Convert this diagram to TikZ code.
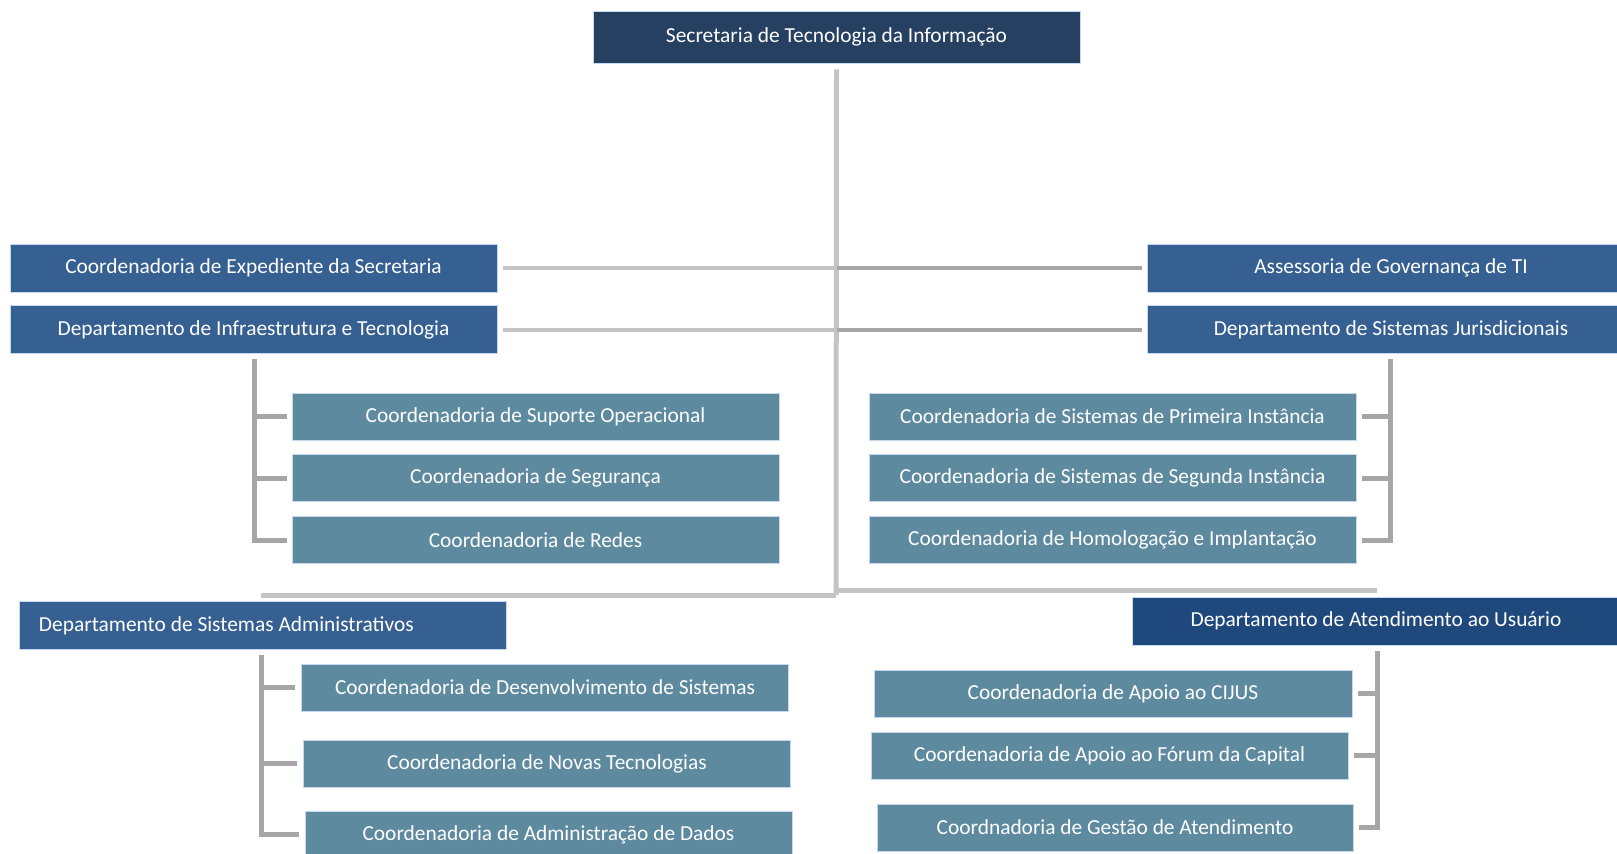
\documentclass[tikz,border=0pt]{standalone}
\usepackage{fontspec}
\setmainfont{Carlito}
\usepackage{tikz}
\usetikzlibrary{positioning, calc}
\definecolor{navy}{HTML}{264062}
\definecolor{deptblue}{HTML}{366092}
\definecolor{userblue}{HTML}{1F497D}
\definecolor{coordteal}{HTML}{5E8AA0}
\definecolor{edgelight}{HTML}{C6D9F1}
\definecolor{lightgray}{HTML}{C4C4C4}
\definecolor{darkgray}{HTML}{A6A6A6}
\tikzstyle{box} = [rectangle, inner sep=0pt, minimum width=243.5pt, minimum height=24pt, text=white, draw=edgelight, line width=0.4pt, font=\fontsize{10.7}{12.5}\selectfont, align=center]
\tikzstyle{chief} = [box, fill=navy, minimum height=26pt]
\tikzstyle{dept} = [box, fill=deptblue]
\tikzstyle{deptl} = [box, fill=deptblue, inner xsep=10pt, text width=223.5pt, align=flush left]
\tikzstyle{user} = [box, fill=userblue]
\tikzstyle{coord} = [box, fill=coordteal, minimum height=23.5pt]
\tikzstyle{trunk} = [line width=2.5pt, draw=lightgray]
\tikzstyle{link} = [line width=2pt, draw=lightgray]
\tikzstyle{linkd} = [line width=2pt, draw=darkgray]
\tikzstyle{branch} = [line width=2.5pt, draw=darkgray]

\begin{document}
\begin{tikzpicture}[x=0.5pt, y=-0.5pt, node distance=7pt]
	\useasboundingbox (0,0) rectangle (1617,853);
	% topo
	\node[chief] (sti) at (836.5,37) {Secretaria de Tecnologia da Informação};
	% segundo nivel
	\node[dept] (ces) at (253.5,268) {Coordenadoria de Expediente da Secretaria};
	\node[dept, below=6.5pt of ces] (dit) {Departamento de Infraestrutura e Tecnologia};
	\node[dept] (agt) at (1391,268) {Assessoria de Governança de TI};
	\node[dept, below=6.5pt of agt] (dsj) {Departamento de Sistemas Jurisdicionais};
	% coordenadorias
	\node[coord] (cso) at (535.5,416.5) {Coordenadoria de Suporte Operacional};
	\node[coord, below=of cso] (cseg) {Coordenadoria de Segurança};
	\node[coord, below=of cseg] (cred) {Coordenadoria de Redes};
	\node[coord] (cspi) at (1112.5,416.5) {Coordenadoria de Sistemas de Primeira Instância};
	\node[coord, below=of cspi] (cssi) {Coordenadoria de Sistemas de Segunda Instância};
	\node[coord, below=of cssi] (chi) {Coordenadoria de Homologação e Implantação};
	% parte de baixo
	\node[deptl] (dsa) at (262.5,625.5) {Departamento de Sistemas Administrativos};
	\node[user] (dau) at (1376,621) {Departamento de Atendimento ao Usuário};
	\node[coord] (cds) at (545,687.5) {Coordenadoria de Desenvolvimento de Sistemas};
	\node[coord] (cnt) at (547,763.5) {Coordenadoria de Novas Tecnologias};
	\node[coord] (cad) at (548.5,834.5) {Coordenadoria de Administração de Dados};
	\node[coord, minimum width=239pt] (cac) at (1113,693.5) {Coordenadoria de Apoio ao CIJUS};
	\node[coord, minimum width=238.5pt] (caf) at (1109.5,755.5) {Coordenadoria de Apoio ao Fórum da Capital};
	\node[coord, minimum width=238pt] (cga) at (1115,827.5) {Coordnadoria de Gestão de Atendimento};

	% linhas
	\coordinate (t1) at ([yshift=-3pt]sti.south);
	\coordinate (t2) at (836,595);
	\coordinate (b1) at (261,595);
	\coordinate (b2) at (1377,590);
	\draw[trunk] (t1) -- (t2);
	\draw[trunk] (t2) -- (b1);
	\draw[trunk] (t2 |- b2) -- (b2);
	\draw[link] ([xshift=3pt]ces.east) -- (ces.east -| t1);
	\draw[link] ([xshift=3pt]dit.east) -- (dit.east -| t1);
	\draw[linkd] ([xshift=-2.5pt]agt.west) -- (agt.west -| t1);
	\draw[linkd] ([xshift=-2.5pt]dsj.west) -- (dsj.west -| t1);

	% chaves
	\coordinate (k1) at (254,359);
	\coordinate (k2) at (1390,359);
	\coordinate (k3) at (261,655);
	\coordinate (k4) at (1377,651);
	\draw[branch] (k1) |- ([xshift=-2.5pt]cred.west);
	\draw[branch] (k2) |- ([xshift=3pt]chi.east);
	\draw[branch] (k3) |- ([xshift=-3pt]cad.west);
	\draw[branch] (k4) |- ([xshift=3pt]cga.east);
	\foreach \n in {cso, cseg}
		\draw[branch] (k1 |- \n.west) -- ([xshift=-2.5pt]\n.west);
	\foreach \n in {cspi, cssi}
		\draw[branch] (k2 |- \n.east) -- ([xshift=3pt]\n.east);
	\foreach \n in {cds, cnt}
		\draw[branch] (k3 |- \n.west) -- ([xshift=-3pt]\n.west);
	\foreach \n in {cac, caf}
		\draw[branch] (k4 |- \n.east) -- ([xshift=3pt]\n.east);
\end{tikzpicture}
\end{document}
